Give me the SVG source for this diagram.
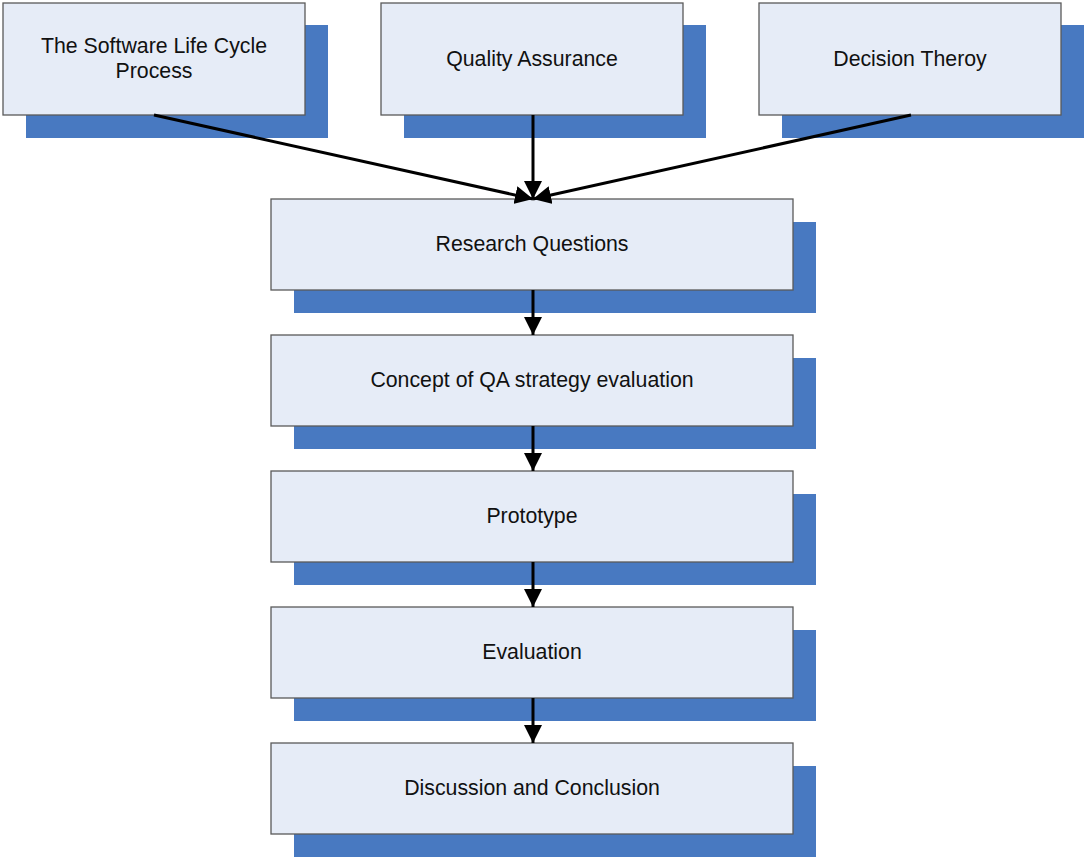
<svg xmlns="http://www.w3.org/2000/svg" width="1085" height="857" viewBox="0 0 1085 857">
  <style>
    .shadow { fill: #4879c1; }
    .box { fill: #e6ecf7; stroke: #5a5a5a; stroke-width: 1.3; }
    .label { font-family: "Liberation Sans", Arial, sans-serif; font-size: 21.3px; fill: #111; text-anchor: middle; }
    .conn { stroke: #000; stroke-width: 3; fill: none; marker-end: url(#arrow); }
  </style>
  <defs>
    <marker id="arrow" viewBox="0 0 10 10" refX="10" refY="5" markerUnits="userSpaceOnUse" markerWidth="18" markerHeight="18" orient="auto">
      <path d="M0,0 L10,5 L0,10 z" fill="#000"/>
    </marker>
  </defs>

  <g id="node-lifecycle">
    <rect class="shadow" x="26" y="25" width="302" height="113"/>
    <rect class="box" x="3" y="3" width="302" height="112"/>
    <text class="label" x="154" y="53">The Software Life Cycle</text>
    <text class="label" x="154" y="78">Process</text>
  </g>
  <g id="node-qa">
    <rect class="shadow" x="404" y="25" width="302" height="113"/>
    <rect class="box" x="381" y="3" width="302" height="112"/>
    <text class="label" x="532" y="66">Quality Assurance</text>
  </g>
  <g id="node-decision">
    <rect class="shadow" x="782" y="25" width="302" height="113"/>
    <rect class="box" x="759" y="3" width="302" height="112"/>
    <text class="label" x="910" y="66">Decision Theroy</text>
  </g>

  <g id="node-research">
    <rect class="shadow" x="294" y="222" width="522" height="91"/>
    <rect class="box" x="271" y="199" width="522" height="91"/>
    <text class="label" x="532" y="251">Research Questions</text>
  </g>
  <g id="node-concept">
    <rect class="shadow" x="294" y="358" width="522" height="91"/>
    <rect class="box" x="271" y="335" width="522" height="91"/>
    <text class="label" x="532" y="387">Concept of QA strategy evaluation</text>
  </g>
  <g id="node-prototype">
    <rect class="shadow" x="294" y="494" width="522" height="91"/>
    <rect class="box" x="271" y="471" width="522" height="91"/>
    <text class="label" x="532" y="523">Prototype</text>
  </g>
  <g id="node-evaluation">
    <rect class="shadow" x="294" y="630" width="522" height="91"/>
    <rect class="box" x="271" y="607" width="522" height="91"/>
    <text class="label" x="532" y="659">Evaluation</text>
  </g>
  <g id="node-discussion">
    <rect class="shadow" x="294" y="766" width="522" height="91"/>
    <rect class="box" x="271" y="743" width="522" height="91"/>
    <text class="label" x="532" y="795">Discussion and Conclusion</text>
  </g>

  <g id="connectors">
    <line class="conn" x1="154" y1="115" x2="533" y2="199"/>
    <line class="conn" x1="533" y1="115" x2="533" y2="199"/>
    <line class="conn" x1="911" y1="115" x2="533" y2="199"/>
    <line class="conn" x1="533" y1="290" x2="533" y2="335"/>
    <line class="conn" x1="533" y1="426" x2="533" y2="471"/>
    <line class="conn" x1="533" y1="562" x2="533" y2="607"/>
    <line class="conn" x1="533" y1="698" x2="533" y2="743"/>
  </g>
</svg>
